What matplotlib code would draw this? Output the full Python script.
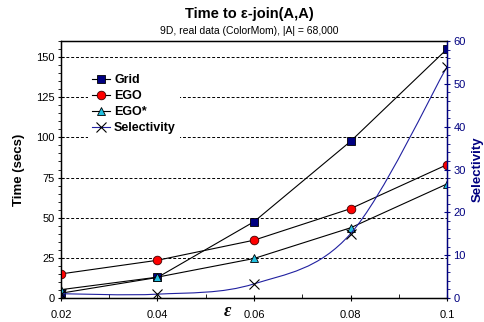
import numpy as np
import matplotlib
matplotlib.use("Agg")
import matplotlib.pyplot as plt
from matplotlib.path import Path
from matplotlib.patches import PathPatch
from matplotlib.lines import Line2D
from matplotlib.ticker import MultipleLocator

plt.rcParams['font.family'] = ['Liberation Sans', 'DejaVu Sans']

eps = [0.02, 0.04, 0.06, 0.08, 0.1]
grid_t = [3, 12.8, 47.5, 97.5, 155]
ego_t = [15, 23.5, 36, 55.6, 83]
egostar_t = [5.2, 13, 24.6, 43.7, 71]
selectivity = [1, 0.9, 3.3, 15, 54]

navy = '#000080'


def smooth_path(x, y):
    # Excel-style smoothed line: Catmull-Rom segments as cubic Beziers
    p = np.column_stack([x, y]).astype(float)
    verts = [p[0]]
    codes = [Path.MOVETO]
    n = len(p)
    for i in range(n - 1):
        p0 = p[max(i - 1, 0)]
        p1 = p[i]
        p2 = p[i + 1]
        p3 = p[min(i + 2, n - 1)]
        c1 = p1 + (p2 - p0) / 6
        c2 = p2 - (p3 - p1) / 6
        verts += [c1, c2, p2]
        codes += [Path.CURVE4] * 3
    return Path(verts, codes)


fig = plt.figure(figsize=(4.84, 3.22), dpi=100)
ax = fig.add_axes([0.126, 0.0745, 0.7976, 0.7982])
ax2 = ax.twinx()

ax.plot(eps, grid_t, c='black', lw=0.8, marker='s', ms=6, mfc=navy, mec='black', mew=0.6, zorder=5)
ax.plot(eps, ego_t, c='black', lw=0.8, marker='o', ms=6.2, mfc='red', mec='#400000', mew=0.6, zorder=4)
ax.plot(eps, egostar_t, c='black', lw=0.8, marker='^', ms=6, mfc='#22c0e0', mec='black', mew=0.6, zorder=6)

ax2.add_patch(PathPatch(smooth_path(eps, selectivity), fill=False, edgecolor='#2020a0', lw=0.8))
ax2.plot(eps, selectivity, ls='none', marker='x', ms=6.5, mec='black', mew=0.8)

ax.set_xlim(0.02, 0.1)
ax.set_ylim(0, 160)
ax2.set_ylim(0, 60)

ax.set_xticks(eps)
ax.set_xticklabels(['0.02', '0.04', '0.06', '0.08', '0.1'])
ax.xaxis.set_minor_locator(MultipleLocator(0.01))
ax.set_yticks([0, 25, 50, 75, 100, 125, 150])
ax.yaxis.set_minor_locator(MultipleLocator(5))
ax2.set_yticks([0, 10, 20, 30, 40, 50, 60])
ax2.yaxis.set_minor_locator(MultipleLocator(2))

ax.tick_params(axis='both', which='major', direction='inout', length=5, width=0.8, labelsize=8, pad=2)
ax.tick_params(axis='x', which='major', pad=6)
ax.tick_params(axis='y', which='minor', direction='out', length=2.5, width=0.6)
ax.tick_params(axis='x', which='minor', direction='in', length=3, width=0.6)
ax2.tick_params(axis='y', which='major', direction='inout', length=5, width=0.8, labelsize=8,
                colors=navy, pad=2)
ax2.tick_params(axis='y', which='minor', direction='out', length=2.5, width=0.6, colors=navy)
ax2.spines['right'].set_color(navy)
ax2.spines['right'].set_linewidth(1.0)
for s in ['left', 'bottom', 'top']:
    ax.spines[s].set_linewidth(1.0)

ax.grid(axis='y', which='major', color='black', ls=(0, (3, 2)), lw=0.7)
ax.set_axisbelow(True)

ax.set_ylabel('Time (secs)', fontsize=9.5, fontweight='bold', labelpad=8)
ax2.set_ylabel('Selectivity', fontsize=9.5, fontweight='bold', color=navy, labelpad=4)
ax.set_xlabel('ε', fontsize=13, fontweight='bold', style='italic',
              family=['Liberation Serif', 'DejaVu Serif'], va='center')
ax.xaxis.set_label_coords(0.43, -0.054)

fig.text(0.515, 0.955, 'Time to ε-join(A,A)', ha='center', va='center', fontsize=10.5, fontweight='bold')
fig.text(0.515, 0.905, '9D, real data (ColorMom), |A| = 68,000', ha='center', va='center', fontsize=7.5)

handles = [
    Line2D([], [], c='black', lw=0.8, marker='s', ms=6, mfc=navy, mec='black', mew=0.6),
    Line2D([], [], c='black', lw=0.8, marker='o', ms=6.2, mfc='red', mec='#400000', mew=0.6),
    Line2D([], [], c='black', lw=0.8, marker='^', ms=6, mfc='#22c0e0', mec='black', mew=0.6),
    Line2D([], [], c='#2020a0', lw=0.8, marker='x', ms=6.5, mec='black', mew=0.8),
]
leg = ax2.legend(handles, ['Grid', 'EGO', 'EGO*', 'Selectivity'], loc='upper left',
                 bbox_to_anchor=(0.055, 0.91), frameon=True, fancybox=False, edgecolor='none',
                 facecolor='white', framealpha=1, handlelength=1.45, handletextpad=0.3,
                 labelspacing=0.33, borderpad=0.3, prop={'size': 9, 'weight': 'bold'})

fig.savefig('out.png', dpi=100)
